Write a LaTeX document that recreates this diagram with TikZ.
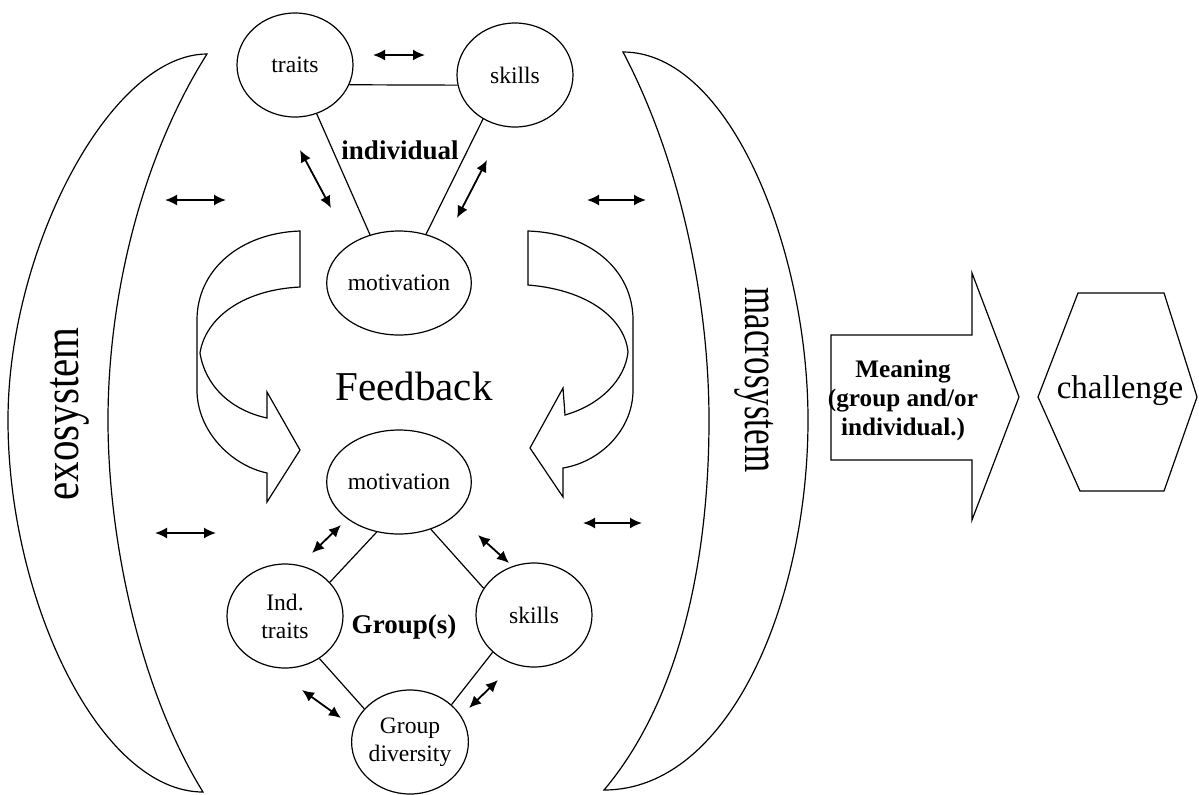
\documentclass[tikz,border=0pt]{standalone}
\usepackage{fontspec}
\setmainfont{Liberation Serif}
\usetikzlibrary{shapes.geometric,arrows.meta}

\begin{document}
\begin{tikzpicture}[x=0.5pt, y=-0.5pt, line width=0.6pt,
  circ/.style={draw, ellipse, minimum width=58pt, minimum height=52pt, inner sep=0pt, align=center, font=\fontsize{11.8}{14}\selectfont},
  dbl/.style={{Latex[length=6pt,width=5.5pt]}-{Latex[length=6pt,width=5.5pt]}, line width=0.9pt}]
\useasboundingbox (0,0) rectangle (1199,794);

% Exosystem band
\draw (207,54) .. controls (110,54) and (8,250) .. (8,420) .. controls (8,600) and (100,792) .. (203,792)
  .. controls (140,690) and (108,540) .. (108,420) .. controls (108,300) and (140,160) .. (207,54) -- cycle;
\node[rotate=90, xscale=0.82, anchor=base, font=\fontsize{25}{30}\selectfont] (exo) at (78,414) {exosystem};

% Macrosystem band
\draw (623,52) .. controls (730,52) and (808,250) .. (808,420) .. controls (808,600) and (730,790) .. (604,790)
  .. controls (680,700) and (709,560) .. (709,420) .. controls (709,300) and (680,160) .. (623,52) -- cycle;
\node[rotate=-90, xscale=0.7, anchor=base, font=\fontsize{25}{30}\selectfont] (macro) at (745,380) {macrosystem};

% Individual level
\node[circ] (traits) at (295,65) {traits};
\node[circ] (skills) at (515,75) {skills};
\node[circ] (motivTop) at (399,283) {motivation};
\node[font=\bfseries\fontsize{13.5}{16}\selectfont] (indiv) at (400,150) {individual};
\draw (traits.-20.5) -- (skills.-170);
\draw (traits.-66) -- (motivTop.121);
\draw (skills.-126) -- (motivTop.61);

% Feedback arrows
\draw (300,231) .. controls (240,233) and (197,270) .. (197,320) -- (197,390)
  .. controls (197,430) and (230,465) .. (267,473) -- (267,502) -- (300,450) -- (267,392) -- (267,418)
  .. controls (230,410) and (205,385) .. (200,353) .. controls (205,320) and (240,290) .. (300,287) -- cycle;
\draw (528,231) .. controls (590,233) and (633,270) .. (633,320) -- (633,390)
  .. controls (633,430) and (600,462) .. (563,468) -- (563,497) -- (530,448) -- (563,388) -- (565,415)
  .. controls (600,405) and (625,380) .. (628,352) .. controls (625,320) and (590,290) .. (528,285) -- cycle;
\node[anchor=base, font=\fontsize{20.5}{24}\selectfont] (feedback) at (414,400) {Feedback};

% Group level
\node[circ] (motivBot) at (399,482) {motivation};
\node[circ] (indTraits) at (285,616) {Ind.\\traits};
\node[circ] (skillsBot) at (534,615) {skills};
\node[circ] (groupDiv) at (410,742) {Group\\diversity};
\node[anchor=base, font=\bfseries\fontsize{13.5}{16}\selectfont] (grp) at (404,633) {Group(s)};
\draw (motivBot.-114) -- (indTraits.37);
\draw (motivBot.-56) -- (skillsBot.152);
\draw (indTraits.-51) -- (groupDiv.144);
\draw (skillsBot.-138) -- (groupDiv.42);

% Two-way influences
\foreach \xa/\ya/\xb/\yb in {373/55/425/55, 300/150/331/208, 487/160/457/218, 165/200/226/200,
    587/200/646/200, 155/533/216/533, 583/523/642/523, 341/525/312/553, 478/535/509/563,
    302/690/341/718, 498/680/469/708}
  \draw[dbl] (\xa,\ya) -- (\xb,\yb);

% Outcome
\draw (831,335) -- (972,335) -- (972,273) -- (1019,397) -- (972,520) -- (972,460) -- (831,460) -- cycle;
\node[align=center, font=\bfseries\fontsize{12.6}{14.5}\selectfont] (meaning) at (903,400) {Meaning\\(group and/or\\individual.)};
\draw (1038,397) -- (1078,293) -- (1164,293) -- (1197,397) -- (1164,491) -- (1080,491) -- cycle;
\node[anchor=base, font=\fontsize{16.5}{20}\selectfont] (chal) at (1120,398) {challenge};
\end{tikzpicture}
\end{document}
